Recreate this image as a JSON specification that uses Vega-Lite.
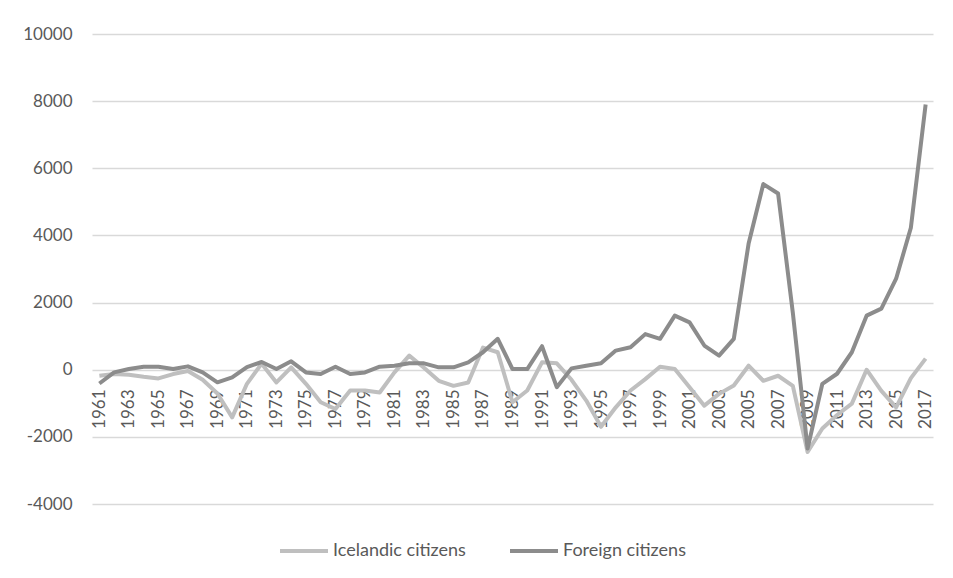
{
  "$schema": "https://vega.github.io/schema/vega-lite/v6.json",
  "autosize": "none",
  "padding": {"left": 92, "top": 34, "right": 20, "bottom": 74},
  "width": 841,
  "height": 470,
  "background": "white",
  "config": {
    "view": {"stroke": null},
    "font": "Lato"
  },
  "datasets": {
    "rows": [
      {"year": 1961, "series": "Icelandic citizens", "value": -180},
      {"year": 1962, "series": "Icelandic citizens", "value": -130},
      {"year": 1963, "series": "Icelandic citizens", "value": -150},
      {"year": 1964, "series": "Icelandic citizens", "value": -210},
      {"year": 1965, "series": "Icelandic citizens", "value": -260},
      {"year": 1966, "series": "Icelandic citizens", "value": -130},
      {"year": 1967, "series": "Icelandic citizens", "value": -40},
      {"year": 1968, "series": "Icelandic citizens", "value": -300},
      {"year": 1969, "series": "Icelandic citizens", "value": -710},
      {"year": 1970, "series": "Icelandic citizens", "value": -1420},
      {"year": 1971, "series": "Icelandic citizens", "value": -420},
      {"year": 1972, "series": "Icelandic citizens", "value": 180},
      {"year": 1973, "series": "Icelandic citizens", "value": -380},
      {"year": 1974, "series": "Icelandic citizens", "value": 70},
      {"year": 1975, "series": "Icelandic citizens", "value": -420},
      {"year": 1976, "series": "Icelandic citizens", "value": -970},
      {"year": 1977, "series": "Icelandic citizens", "value": -1170},
      {"year": 1978, "series": "Icelandic citizens", "value": -620},
      {"year": 1979, "series": "Icelandic citizens", "value": -620},
      {"year": 1980, "series": "Icelandic citizens", "value": -680},
      {"year": 1981, "series": "Icelandic citizens", "value": -80},
      {"year": 1982, "series": "Icelandic citizens", "value": 420},
      {"year": 1983, "series": "Icelandic citizens", "value": 60},
      {"year": 1984, "series": "Icelandic citizens", "value": -330},
      {"year": 1985, "series": "Icelandic citizens", "value": -480},
      {"year": 1986, "series": "Icelandic citizens", "value": -380},
      {"year": 1987, "series": "Icelandic citizens", "value": 660},
      {"year": 1988, "series": "Icelandic citizens", "value": 520},
      {"year": 1989, "series": "Icelandic citizens", "value": -970},
      {"year": 1990, "series": "Icelandic citizens", "value": -620},
      {"year": 1991, "series": "Icelandic citizens", "value": 220},
      {"year": 1992, "series": "Icelandic citizens", "value": 190},
      {"year": 1993, "series": "Icelandic citizens", "value": -300},
      {"year": 1994, "series": "Icelandic citizens", "value": -920},
      {"year": 1995, "series": "Icelandic citizens", "value": -1700},
      {"year": 1996, "series": "Icelandic citizens", "value": -1120},
      {"year": 1997, "series": "Icelandic citizens", "value": -620},
      {"year": 1998, "series": "Icelandic citizens", "value": -280},
      {"year": 1999, "series": "Icelandic citizens", "value": 90},
      {"year": 2000, "series": "Icelandic citizens", "value": 20},
      {"year": 2001, "series": "Icelandic citizens", "value": -520},
      {"year": 2002, "series": "Icelandic citizens", "value": -1070},
      {"year": 2003, "series": "Icelandic citizens", "value": -720},
      {"year": 2004, "series": "Icelandic citizens", "value": -470},
      {"year": 2005, "series": "Icelandic citizens", "value": 120},
      {"year": 2006, "series": "Icelandic citizens", "value": -330},
      {"year": 2007, "series": "Icelandic citizens", "value": -180},
      {"year": 2008, "series": "Icelandic citizens", "value": -480},
      {"year": 2009, "series": "Icelandic citizens", "value": -2450},
      {"year": 2010, "series": "Icelandic citizens", "value": -1750},
      {"year": 2011, "series": "Icelandic citizens", "value": -1350},
      {"year": 2012, "series": "Icelandic citizens", "value": -1010},
      {"year": 2013, "series": "Icelandic citizens", "value": 0},
      {"year": 2014, "series": "Icelandic citizens", "value": -630},
      {"year": 2015, "series": "Icelandic citizens", "value": -1120},
      {"year": 2016, "series": "Icelandic citizens", "value": -250},
      {"year": 2017, "series": "Icelandic citizens", "value": 330},
      {"year": 1961, "series": "Foreign citizens", "value": -410},
      {"year": 1962, "series": "Foreign citizens", "value": -80},
      {"year": 1963, "series": "Foreign citizens", "value": 20},
      {"year": 1964, "series": "Foreign citizens", "value": 90},
      {"year": 1965, "series": "Foreign citizens", "value": 90},
      {"year": 1966, "series": "Foreign citizens", "value": 20},
      {"year": 1967, "series": "Foreign citizens", "value": 100},
      {"year": 1968, "series": "Foreign citizens", "value": -80},
      {"year": 1969, "series": "Foreign citizens", "value": -375},
      {"year": 1970, "series": "Foreign citizens", "value": -230},
      {"year": 1971, "series": "Foreign citizens", "value": 80},
      {"year": 1972, "series": "Foreign citizens", "value": 230},
      {"year": 1973, "series": "Foreign citizens", "value": 20},
      {"year": 1974, "series": "Foreign citizens", "value": 250},
      {"year": 1975, "series": "Foreign citizens", "value": -80},
      {"year": 1976, "series": "Foreign citizens", "value": -130},
      {"year": 1977, "series": "Foreign citizens", "value": 90},
      {"year": 1978, "series": "Foreign citizens", "value": -130},
      {"year": 1979, "series": "Foreign citizens", "value": -80},
      {"year": 1980, "series": "Foreign citizens", "value": 90},
      {"year": 1981, "series": "Foreign citizens", "value": 120},
      {"year": 1982, "series": "Foreign citizens", "value": 190},
      {"year": 1983, "series": "Foreign citizens", "value": 190},
      {"year": 1984, "series": "Foreign citizens", "value": 70},
      {"year": 1985, "series": "Foreign citizens", "value": 70},
      {"year": 1986, "series": "Foreign citizens", "value": 220},
      {"year": 1987, "series": "Foreign citizens", "value": 520},
      {"year": 1988, "series": "Foreign citizens", "value": 920},
      {"year": 1989, "series": "Foreign citizens", "value": 20},
      {"year": 1990, "series": "Foreign citizens", "value": 20},
      {"year": 1991, "series": "Foreign citizens", "value": 700},
      {"year": 1992, "series": "Foreign citizens", "value": -520},
      {"year": 1993, "series": "Foreign citizens", "value": 40},
      {"year": 1994, "series": "Foreign citizens", "value": 120},
      {"year": 1995, "series": "Foreign citizens", "value": 190},
      {"year": 1996, "series": "Foreign citizens", "value": 570},
      {"year": 1997, "series": "Foreign citizens", "value": 670},
      {"year": 1998, "series": "Foreign citizens", "value": 1060},
      {"year": 1999, "series": "Foreign citizens", "value": 920},
      {"year": 2000, "series": "Foreign citizens", "value": 1610},
      {"year": 2001, "series": "Foreign citizens", "value": 1410},
      {"year": 2002, "series": "Foreign citizens", "value": 720},
      {"year": 2003, "series": "Foreign citizens", "value": 420},
      {"year": 2004, "series": "Foreign citizens", "value": 920},
      {"year": 2005, "series": "Foreign citizens", "value": 3750},
      {"year": 2006, "series": "Foreign citizens", "value": 5530},
      {"year": 2007, "series": "Foreign citizens", "value": 5250},
      {"year": 2008, "series": "Foreign citizens", "value": 1700},
      {"year": 2009, "series": "Foreign citizens", "value": -2350},
      {"year": 2010, "series": "Foreign citizens", "value": -420},
      {"year": 2011, "series": "Foreign citizens", "value": -120},
      {"year": 2012, "series": "Foreign citizens", "value": 520},
      {"year": 2013, "series": "Foreign citizens", "value": 1610},
      {"year": 2014, "series": "Foreign citizens", "value": 1820},
      {"year": 2015, "series": "Foreign citizens", "value": 2710},
      {"year": 2016, "series": "Foreign citizens", "value": 4230},
      {"year": 2017, "series": "Foreign citizens", "value": 7900}
    ]
  },
  "data": {"name": "rows"},
  "mark": {"type": "line", "strokeWidth": 4, "strokeJoin": "round", "strokeCap": "butt"},
  "encoding": {
    "x": {
      "field": "year",
      "type": "ordinal",
      "scale": {"type": "point", "padding": 0.5},
      "axis": {
        "title": null,
        "offset": -135,
        "domain": false,
        "ticks": false,
        "tickSize": 0,
        "labelAngle": -90,
        "labelAlign": "right",
        "labelBaseline": "middle",
        "labelPadding": 20,
        "labelFont": "Lato",
        "labelFontSize": 17,
        "labelColor": "#595959",
        "labelOverlap": false,
        "values": [1961,1963,1965,1967,1969,1971,1973,1975,1977,1979,1981,1983,1985,1987,1989,1991,1993,1995,1997,1999,2001,2003,2005,2007,2009,2011,2013,2015,2017],
        "grid": false
      }
    },
    "y": {
      "field": "value",
      "type": "quantitative",
      "scale": {"domain": [-4000, 10000], "nice": false, "zero": false},
      "axis": {
        "title": null,
        "labelExpr": "datum.value < 0 ? '-' + abs(datum.value) : '' + datum.value",
        "values": [-4000, -2000, 0, 2000, 4000, 6000, 8000, 10000],
        "domain": false,
        "ticks": false,
        "tickSize": 0,
        "labelPadding": 20,
        "labelFont": "Lato",
        "labelFontSize": 17,
        "labelColor": "#595959",
        "grid": true,
        "gridColor": "#d9d9d9",
        "gridWidth": 1.5
      }
    },
    "color": {
      "field": "series",
      "type": "nominal",
      "scale": {
        "domain": ["Icelandic citizens", "Foreign citizens"],
        "range": ["#bfbfbf", "#8c8c8c"]
      },
      "legend": {
        "title": null,
        "orient": "none",
        "legendX": 186,
        "legendY": 491,
        "direction": "horizontal",
        "symbolType": "stroke",
        "symbolSize": 2304,
        "symbolStrokeWidth": 4,
        "labelFont": "Lato",
        "labelFontSize": 18,
        "labelColor": "#595959",
        "labelOffset": 3,
        "columnPadding": 36
      }
    }
  }
}
